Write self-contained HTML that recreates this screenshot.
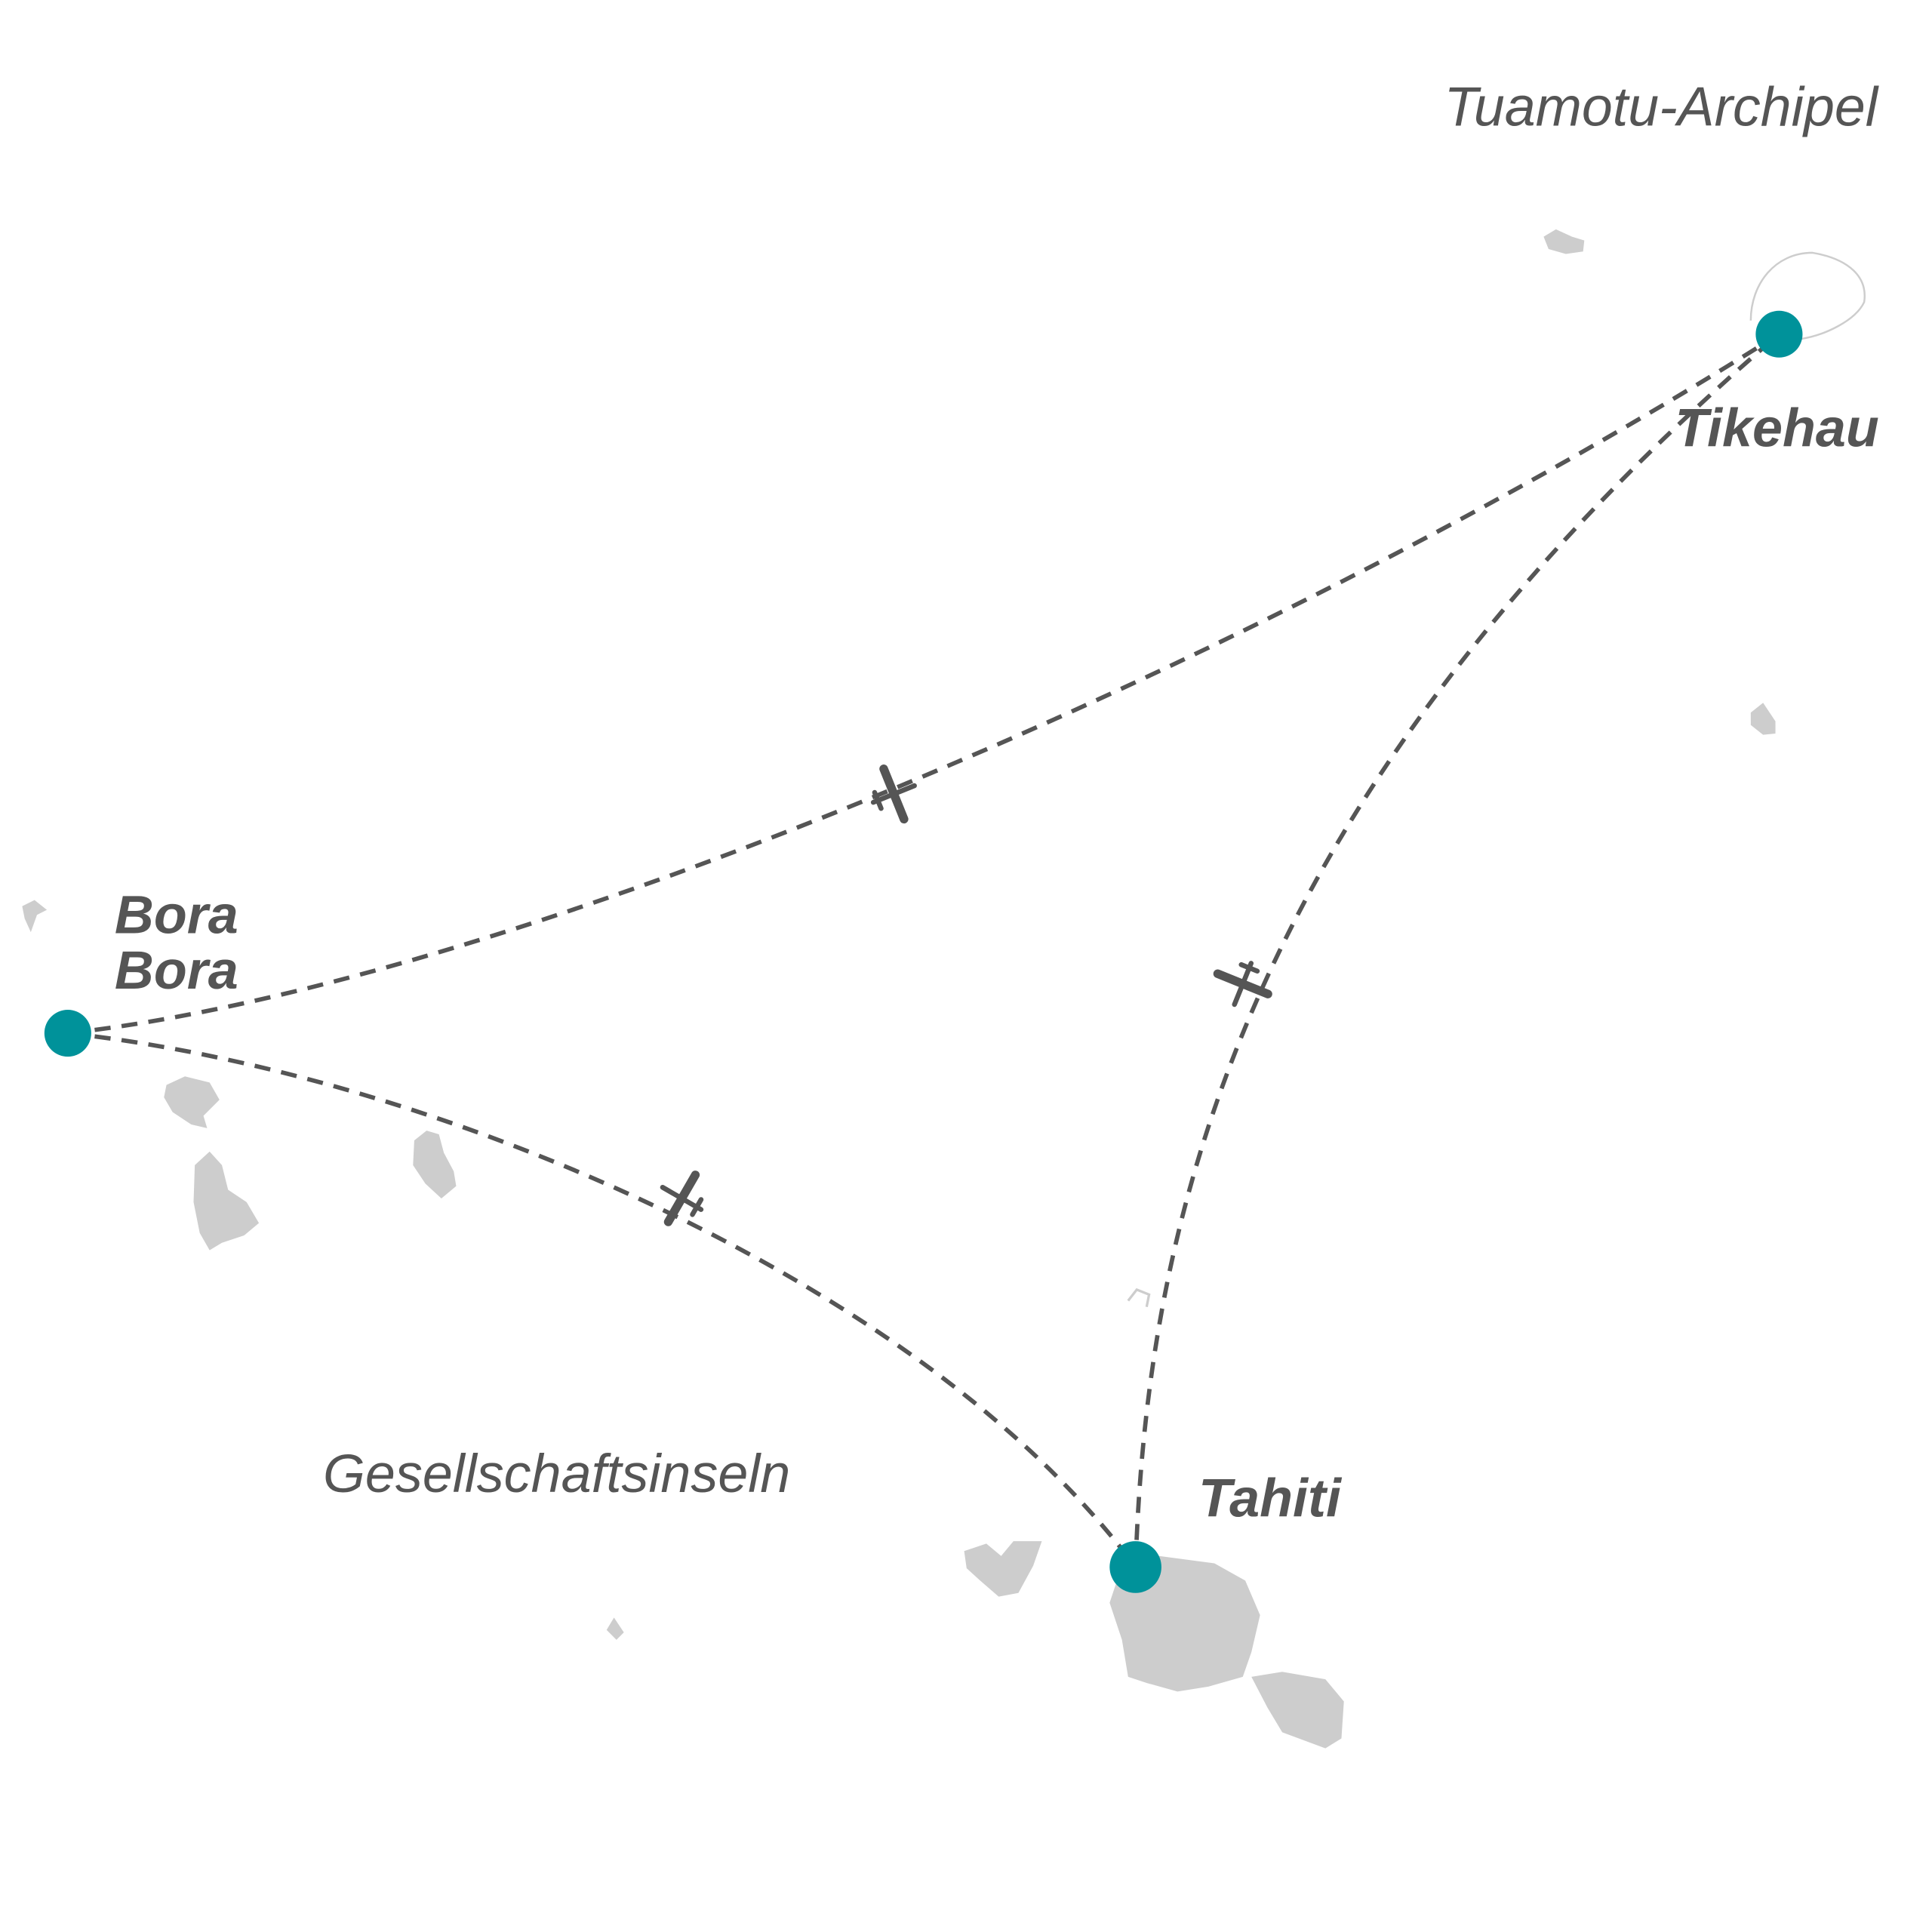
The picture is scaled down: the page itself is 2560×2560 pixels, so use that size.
<!DOCTYPE html>
<html><head><meta charset="utf-8"><style>
html,body{margin:0;padding:0;background:#fff}
svg{display:block}
text{font-family:"Liberation Sans",sans-serif;font-style:italic;fill:#555}
</style></head><body>
<svg width="2560" height="2560" viewBox="0 0 1567 1567" xmlns="http://www.w3.org/2000/svg">
<rect width="1567" height="1567" fill="#fff"/>
<g fill="#cdcdcd">
<path d="M905 1285 L940 1262 L985 1268 L1010 1282 L1022 1310 L1015 1340 L1008 1360 L980 1368 L955 1372 L930 1365 L915 1360 L910 1330 L900 1300 Z"/>
<path d="M1015 1360 L1040 1356 L1075 1362 L1090 1380 L1088 1410 L1075 1418 L1040 1405 L1028 1385 Z"/>
<path d="M782 1258 L800 1252 L812 1262 L822 1250 L845 1250 L838 1270 L826 1292 L810 1295 L795 1282 L784 1272 Z"/>
<path d="M492 1322 L498 1312 L506 1324 L500 1330 Z"/>
<path d="M135 880 L150 873 L170 878 L178 892 L165 905 L168 915 L155 912 L140 902 L133 890 Z"/>
<path d="M158 945 L170 934 L180 945 L185 965 L200 975 L210 992 L198 1002 L180 1008 L170 1014 L162 1000 L157 975 Z"/>
<path d="M336 925 L346 917 L356 920 L360 935 L368 950 L370 962 L358 972 L345 960 L335 945 Z"/>
<path d="M1420 578 L1430 570 L1440 585 L1440 595 L1430 596 L1420 588 Z"/>
<path d="M1252 192 L1262 186 L1275 192 L1285 195 L1284 204 L1270 206 L1256 202 Z"/>
<path d="M18 735 L28 730 L38 738 L30 742 L25 756 L20 745 Z"/>
</g>
<path d="M1420 260 C1420 230 1440 205 1470 205 C1500 210 1515 225 1512 245 C1505 260 1480 272 1460 275" fill="none" stroke="#cdcdcd" stroke-width="1.5"/>
<path d="M915 1055 L922 1046 L932 1050 L930 1060" fill="none" stroke="#cdcdcd" stroke-width="2"/>
<g fill="none" stroke="#555" stroke-width="3.5" stroke-dasharray="13,9">
<path d="M55 838 C400 800 1000 550 1443 271"/>
<path d="M55 838 C350 870 750 1040 921 1271"/>
<path d="M921 1271 C930 1000 1000 650 1443 271"/>
</g>
<g stroke="#555" stroke-linecap="round" fill="none">
<g transform="translate(725,644) rotate(-22)"><line x1="-18" y1="0" x2="18" y2="0" stroke-width="4"/><line x1="0" y1="-22" x2="0" y2="22" stroke-width="7"/><line x1="-14" y1="-7" x2="-14" y2="7" stroke-width="4"/></g>
<g transform="translate(553,972) rotate(30)"><line x1="-18" y1="0" x2="18" y2="0" stroke-width="4"/><line x1="0" y1="-22" x2="0" y2="22" stroke-width="7"/><line x1="14" y1="-7" x2="14" y2="7" stroke-width="4"/></g>
<g transform="translate(1008,798) rotate(-68)"><line x1="-18" y1="0" x2="18" y2="0" stroke-width="4"/><line x1="0" y1="-22" x2="0" y2="22" stroke-width="7"/><line x1="14" y1="-7" x2="14" y2="7" stroke-width="4"/></g>
</g>
<g fill="#00929a">
<circle cx="55" cy="838" r="19"/>
<circle cx="1443" cy="271" r="19"/>
<circle cx="921" cy="1271" r="21"/>
</g>
<text x="1523" y="102" text-anchor="end" font-size="45">Tuamotu-Archipel</text>
<text x="1524" y="362" text-anchor="end" font-size="44" font-weight="bold">Tikehau</text>
<text x="93" y="757" font-size="44" font-weight="bold">Bora</text>
<text x="93" y="802" font-size="44" font-weight="bold">Bora</text>
<text x="262" y="1210" font-size="44">Gesellschaftsinseln</text>
<text x="972" y="1230" font-size="44" font-weight="bold">Tahiti</text>
</svg>
</body></html>
